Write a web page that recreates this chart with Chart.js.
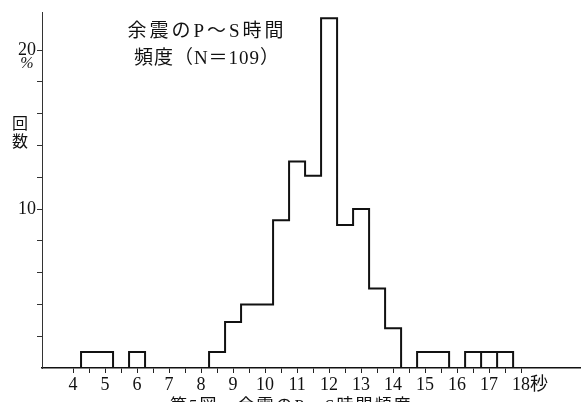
<!DOCTYPE html>
<html>
<head>
<meta charset="utf-8">
<script src="https://cdn.jsdelivr.net/npm/chart.js@4.4.1/dist/chart.umd.min.js"></script>
<style>
  html, body { margin: 0; padding: 0; background: #fff; }
  canvas { display: block; }
</style>
</head>
<body>
<canvas id="psChart" width="586" height="402"></canvas>
<script>
// Bins of 0.5 s (centre of each bin) and frequency
const binCenters = [4.5, 5, 6, 8.5, 9, 9.5, 10, 10.5, 11, 11.5, 12, 12.5, 13, 13.5, 14, 15, 15.5, 16.5, 17, 17.5];
const frequency = [1.0, 1.0, 1.0, 1.0, 2.9, 4.0, 4.0, 9.3, 13.0, 12.1, 22.0, 9.0, 10.0, 5.0, 2.5, 1.0, 1.0, 1.0, 1.0, 1.0];
const splitEdges = [16.75, 17.25]; // bins drawn as separate boxes

const xTickValues = [4, 5, 6, 7, 8, 9, 10, 11, 12, 13, 14, 15, 16, 17, 18];
const xTickLabels = ["4", "5", "6", "7", "8", "9", "10", "11", "12", "13", "14", "15", "16", "17", "\u200318秒"];
const yTickValues = [10, 20];
const yTickLabels = ["10", "20"];

const titleLines = ["余震のP～S時間", "頻度（N＝109）"];
const yTitle = ["回", "数"];
const caption = "第5図　余震のP～S時間頻度";

const binWidth = 0.5;

// Outline of the histogram (one polyline over the baseline)
function buildOutline() {
  const pts = [];
  for (let i = 0; i < binCenters.length; i++) {
    const left = binCenters[i] - binWidth / 2;
    const right = binCenters[i] + binWidth / 2;
    const prevRight = i > 0 ? binCenters[i - 1] + binWidth / 2 : null;
    if (prevRight !== left || splitEdges.includes(left)) pts.push({ x: left, y: 0 });
    pts.push({ x: left, y: frequency[i] });
    pts.push({ x: right, y: frequency[i] });
    const nextLeft = i < binCenters.length - 1 ? binCenters[i + 1] - binWidth / 2 : null;
    if (nextLeft !== right || splitEdges.includes(right)) pts.push({ x: right, y: 0 });
  }
  return pts;
}

const serif = '"Liberation Serif", "DejaVu Serif", "Noto Sans CJK JP"';

const textPlugin = {
  id: "texts",
  afterDraw(chart) {
    const ctx = chart.ctx;
    ctx.save();
    ctx.fillStyle = "#111";
    ctx.textAlign = "center";
    ctx.textBaseline = "middle";

    ctx.font = "19px " + serif;
    ctx.letterSpacing = "3px";
    ctx.fillText(titleLines[0], 207, 32);
    ctx.letterSpacing = "1px";
    ctx.fillText(titleLines[1], 207, 59);

    ctx.letterSpacing = "0px";
    ctx.font = "16px " + serif;
    ctx.fillText(yTitle[0], 20, 125);
    ctx.fillText(yTitle[1], 20, 143);

    ctx.font = "italic 16px " + serif;
    ctx.fillText("%", 27, 64);

    ctx.textAlign = "left";
    ctx.textBaseline = "top";
    ctx.font = "17px " + serif;
    ctx.letterSpacing = "2px";
    ctx.fillText(caption, 170, 398);
    ctx.restore();
  },
};

const halfTicks = [];
xTickValues.forEach((v, i) => {
  halfTicks.push(v);
  if (i < xTickValues.length - 1) halfTicks.push(v + 0.5);
});

new Chart(document.getElementById("psChart"), {
  type: "line",
  data: {
    datasets: [
      {
        data: buildOutline(),
        borderColor: "#111",
        borderWidth: 2,
        pointRadius: 0,
        tension: 0,
        fill: false,
      },
    ],
  },
  options: {
    responsive: false,
    animation: false,
    devicePixelRatio: 1,
    layout: { padding: { top: 12, right: 6, left: 0, bottom: 0 } },
    plugins: { legend: { display: false }, tooltip: { enabled: false } },
    scales: {
      x: {
        type: "linear",
        min: 3.03,
        max: 19.84,
        afterBuildTicks: (scale) => {
          scale.ticks = halfTicks.map((v) => ({ value: v }));
        },
        afterFit: (scale) => {
          scale.height = 34;
        },
        grid: { drawOnChartArea: false, tickLength: 5, color: "#222", lineWidth: 1 },
        border: { color: "#111", width: 1.5 },
        ticks: {
          autoSkip: false,
          maxRotation: 0,
          padding: 1,
          color: "#111",
          font: { family: serif, size: 18 },
          callback: (value) => {
            const i = xTickValues.indexOf(value);
            return i >= 0 ? xTickLabels[i] : "";
          },
        },
      },
      y: {
        min: 0,
        max: 22.4,
        afterBuildTicks: (scale) => {
          const t = [];
          for (let v = 2; v <= 20; v += 2) t.push({ value: v });
          scale.ticks = t;
        },
        afterFit: (scale) => {
          scale.width = 42;
        },
        grid: { drawOnChartArea: false, tickLength: 5, color: "#333", lineWidth: 1 },
        border: { color: "#333", width: 1 },
        ticks: {
          padding: 1,
          color: "#111",
          font: { family: serif, size: 18 },
          callback: (value) => {
            const i = yTickValues.indexOf(value);
            return i >= 0 ? yTickLabels[i] : "";
          },
        },
      },
    },
  },
  plugins: [textPlugin],
});
</script>
</body>
</html>
